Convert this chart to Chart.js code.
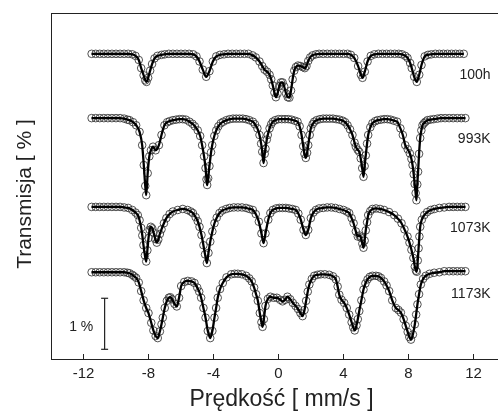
<!DOCTYPE html>
<html>
<head>
<meta charset="utf-8">
<script src="https://cdn.jsdelivr.net/npm/chart.js@4"></script>
<style>html,body{margin:0;padding:0;overflow:hidden;background:#fff}canvas{display:block}</style>
</head>
<body>
<canvas id="myChart" width="512" height="413"></canvas>
<script>
// Mossbauer spectra: [velocity mm/s, absorption depth %]
const s100h = [[-11.5,0],[-11.25,0],[-11,0],[-10.75,0],[-10.5,0],[-10.25,0],[-10,0],[-9.75,0],[-9.5,0],[-9.25,0],[-9,0.01],[-8.8,0.04],[-8.6,0.12],[-8.45,0.28],[-8.3,0.42],[-8.2,0.52],[-8.12,0.55],[-8.02,0.47],[-7.9,0.33],[-7.78,0.2],[-7.63,0.09],[-7.45,0.04],[-7.2,0.02],[-7,0.01],[-6.75,0],[-6.5,0],[-6.25,0],[-6,0],[-5.75,0],[-5.5,0],[-5.25,0.01],[-5.05,0.05],[-4.86,0.15],[-4.66,0.31],[-4.45,0.45],[-4.25,0.34],[-4.04,0.15],[-3.83,0.05],[-3.6,0.02],[-3.35,0.01],[-3.1,0],[-2.85,0],[-2.6,0],[-2.35,0],[-2.1,0],[-1.85,0],[-1.6,0.03],[-1.4,0.07],[-1.17,0.15],[-1,0.24],[-0.86,0.31],[-0.7,0.35],[-0.55,0.41],[-0.45,0.5],[-0.35,0.62],[-0.25,0.76],[-0.16,0.85],[-0.06,0.78],[0.05,0.63],[0.15,0.56],[0.25,0.56],[0.35,0.64],[0.47,0.78],[0.57,0.85],[0.67,0.86],[0.77,0.72],[0.87,0.5],[0.97,0.33],[1.07,0.26],[1.2,0.23],[1.35,0.24],[1.5,0.26],[1.62,0.28],[1.72,0.24],[1.83,0.14],[1.95,0.07],[2.1,0.03],[2.3,0.01],[2.5,0],[2.75,0],[3,0],[3.25,0],[3.5,0],[3.75,0],[4,0],[4.25,0],[4.45,0.02],[4.66,0.08],[4.9,0.24],[5.07,0.41],[5.17,0.47],[5.31,0.35],[5.48,0.15],[5.68,0.04],[5.9,0.01],[6.15,0],[6.4,0],[6.65,0],[6.9,0],[7.15,0],[7.4,0],[7.6,0.01],[7.8,0.04],[7.94,0.08],[8.1,0.18],[8.2,0.28],[8.35,0.45],[8.51,0.55],[8.66,0.41],[8.8,0.22],[9,0.05],[9.2,0.02],[9.4,0.01],[9.65,0],[9.9,0],[10.15,0],[10.4,0],[10.65,0],[10.9,0],[11.15,0],[11.4,0]];

const s993K = [[-11.5,0],[-11.25,0],[-11,0],[-10.75,0],[-10.5,0],[-10.25,0],[-10,0],[-9.75,0],[-9.5,0.01],[-9.3,0.03],[-9.17,0.04],[-8.95,0.08],[-8.76,0.14],[-8.55,0.27],[-8.39,0.53],[-8.29,0.92],[-8.2,1.33],[-8.14,1.51],[-8.05,1.08],[-7.95,0.75],[-7.85,0.63],[-7.72,0.56],[-7.56,0.63],[-7.36,0.53],[-7.2,0.33],[-7.02,0.14],[-6.85,0.08],[-6.7,0.06],[-6.5,0.04],[-6.3,0.03],[-6.1,0.02],[-5.9,0.02],[-5.7,0.03],[-5.48,0.07],[-5.3,0.11],[-5.15,0.16],[-4.97,0.24],[-4.82,0.35],[-4.7,0.53],[-4.58,0.75],[-4.49,0.98],[-4.43,1.2],[-4.39,1.31],[-4.33,1.18],[-4.25,0.94],[-4.15,0.67],[-4.08,0.53],[-3.95,0.35],[-3.83,0.24],[-3.7,0.16],[-3.55,0.1],[-3.4,0.07],[-3.2,0.04],[-3,0.02],[-2.8,0.01],[-2.6,0.01],[-2.4,0.01],[-2.2,0.01],[-2,0.02],[-1.8,0.04],[-1.58,0.07],[-1.45,0.12],[-1.3,0.2],[-1.17,0.33],[-1.07,0.5],[-1,0.66],[-0.92,0.88],[-0.85,0.7],[-0.8,0.6],[-0.72,0.42],[-0.66,0.33],[-0.55,0.2],[-0.45,0.12],[-0.35,0.07],[-0.2,0.04],[0,0.02],[0.2,0.02],[0.4,0.02],[0.6,0.02],[0.8,0.03],[1,0.05],[1.17,0.07],[1.3,0.16],[1.42,0.33],[1.52,0.55],[1.6,0.7],[1.68,0.78],[1.76,0.68],[1.83,0.53],[1.92,0.33],[1.99,0.2],[2.1,0.12],[2.2,0.07],[2.35,0.04],[2.55,0.02],[2.75,0.01],[2.95,0.01],[3.15,0.01],[3.35,0.01],[3.55,0.02],[3.75,0.03],[3.95,0.05],[4.1,0.08],[4.25,0.14],[4.4,0.22],[4.55,0.33],[4.68,0.48],[4.76,0.56],[4.87,0.62],[4.97,0.66],[5.06,0.79],[5.15,0.98],[5.23,1.15],[5.3,0.94],[5.37,0.73],[5.45,0.5],[5.52,0.33],[5.65,0.18],[5.78,0.1],[5.95,0.06],[6.1,0.04],[6.3,0.03],[6.5,0.02],[6.7,0.02],[6.9,0.03],[7.1,0.05],[7.3,0.07],[7.5,0.2],[7.65,0.33],[7.8,0.53],[7.95,0.61],[8.08,0.69],[8.18,0.8],[8.25,0.92],[8.32,1.1],[8.38,1.29],[8.44,1.47],[8.49,1.61],[8.54,1.3],[8.59,1.05],[8.65,0.7],[8.72,0.39],[8.79,0.24],[8.86,0.14],[8.95,0.1],[9.05,0.07],[9.17,0.04],[9.35,0.03],[9.55,0.02],[9.78,0.01],[10,0],[10.25,0],[10.5,0],[10.75,0],[11,0],[11.25,0],[11.5,0]];

const s1073K = [[-11.5,0],[-11.25,0],[-11,0],[-10.75,0],[-10.5,0],[-10.25,0],[-10,0],[-9.75,0],[-9.5,0.01],[-9.25,0.02],[-9,0.06],[-8.8,0.11],[-8.66,0.16],[-8.55,0.26],[-8.45,0.41],[-8.38,0.56],[-8.31,0.75],[-8.22,0.95],[-8.14,1.07],[-8.07,0.85],[-8,0.61],[-7.93,0.45],[-7.86,0.39],[-7.77,0.42],[-7.69,0.5],[-7.58,0.63],[-7.49,0.7],[-7.4,0.64],[-7.3,0.53],[-7.2,0.44],[-7.05,0.32],[-6.9,0.22],[-6.7,0.14],[-6.5,0.09],[-6.2,0.06],[-5.89,0.04],[-5.6,0.06],[-5.4,0.09],[-5.27,0.12],[-5.1,0.2],[-4.97,0.28],[-4.86,0.39],[-4.74,0.55],[-4.62,0.75],[-4.52,0.93],[-4.41,1.1],[-4.31,0.9],[-4.2,0.68],[-4.07,0.48],[-3.94,0.32],[-3.8,0.21],[-3.63,0.12],[-3.45,0.07],[-3.22,0.04],[-3,0.02],[-2.75,0.01],[-2.5,0.01],[-2.25,0.01],[-2,0.02],[-1.8,0.04],[-1.58,0.06],[-1.4,0.14],[-1.21,0.29],[-1.05,0.52],[-0.92,0.71],[-0.8,0.52],[-0.63,0.25],[-0.5,0.12],[-0.35,0.06],[-0.15,0.03],[0.05,0.02],[0.25,0.02],[0.45,0.02],[0.65,0.03],[0.85,0.04],[1.06,0.06],[1.22,0.13],[1.37,0.25],[1.54,0.45],[1.68,0.55],[1.83,0.45],[1.99,0.22],[2.15,0.11],[2.3,0.06],[2.5,0.03],[2.75,0.02],[3,0.01],[3.25,0.01],[3.5,0.02],[3.75,0.04],[4,0.06],[4.2,0.09],[4.35,0.12],[4.5,0.22],[4.62,0.32],[4.76,0.48],[4.88,0.58],[4.98,0.56],[5.07,0.6],[5.16,0.72],[5.23,0.8],[5.3,0.66],[5.37,0.46],[5.45,0.3],[5.52,0.16],[5.65,0.08],[5.78,0.04],[6,0.03],[6.25,0.04],[6.5,0.06],[6.8,0.1],[7.12,0.16],[7.35,0.23],[7.57,0.32],[7.75,0.44],[7.94,0.58],[8.06,0.7],[8.18,0.84],[8.3,1],[8.39,1.17],[8.46,1.25],[8.51,1.27],[8.57,1.05],[8.62,0.81],[8.67,0.58],[8.72,0.39],[8.82,0.25],[8.97,0.16],[9.15,0.1],[9.37,0.06],[9.6,0.04],[9.9,0.02],[10.2,0.01],[10.5,0],[10.75,0],[11,0],[11.25,0],[11.5,0]];

const s1173K = [[-11.5,0],[-11.25,0],[-11,0],[-10.75,0],[-10.5,0],[-10.25,0],[-10,0],[-9.75,0],[-9.5,0],[-9.3,0.01],[-9.17,0.02],[-9,0.05],[-8.88,0.08],[-8.76,0.11],[-8.6,0.2],[-8.45,0.37],[-8.3,0.55],[-8.14,0.7],[-8,0.8],[-7.83,0.99],[-7.7,1.14],[-7.56,1.25],[-7.43,1.29],[-7.3,1.16],[-7.2,1.02],[-7.12,0.89],[-7,0.7],[-6.87,0.56],[-6.75,0.5],[-6.66,0.49],[-6.55,0.53],[-6.4,0.62],[-6.26,0.67],[-6.12,0.5],[-5.99,0.27],[-5.8,0.19],[-5.58,0.17],[-5.35,0.18],[-5.17,0.21],[-5,0.3],[-4.88,0.38],[-4.76,0.5],[-4.62,0.7],[-4.49,0.89],[-4.35,1.15],[-4.2,1.29],[-4.07,1.15],[-3.94,0.89],[-3.84,0.7],[-3.74,0.5],[-3.6,0.33],[-3.43,0.21],[-3.2,0.1],[-2.91,0.04],[-2.7,0.03],[-2.5,0.03],[-2.25,0.04],[-1.99,0.07],[-1.8,0.12],[-1.65,0.18],[-1.5,0.3],[-1.38,0.43],[-1.27,0.56],[-1.15,0.8],[-1.05,0.98],[-0.98,1.07],[-0.9,0.92],[-0.8,0.66],[-0.65,0.52],[-0.5,0.48],[-0.3,0.5],[-0.1,0.5],[0.1,0.54],[0.25,0.57],[0.4,0.54],[0.55,0.48],[0.72,0.53],[0.88,0.6],[1.05,0.66],[1.2,0.72],[1.35,0.8],[1.48,0.86],[1.6,0.74],[1.7,0.56],[1.8,0.38],[1.9,0.24],[2.05,0.13],[2.2,0.07],[2.4,0.05],[2.6,0.04],[2.85,0.04],[3.12,0.05],[3.35,0.08],[3.53,0.14],[3.64,0.28],[3.74,0.44],[3.88,0.54],[4.04,0.6],[4.2,0.7],[4.35,0.83],[4.5,0.98],[4.6,1.08],[4.69,1.14],[4.8,1.04],[4.88,0.92],[4.97,0.76],[5.1,0.55],[5.23,0.34],[5.35,0.22],[5.48,0.14],[5.62,0.09],[5.78,0.07],[6,0.07],[6.15,0.08],[6.3,0.11],[6.5,0.18],[6.65,0.26],[6.81,0.37],[7,0.55],[7.22,0.7],[7.38,0.74],[7.53,0.79],[7.7,0.92],[7.83,1.05],[7.95,1.17],[8.05,1.27],[8.15,1.32],[8.27,1.22],[8.39,1.02],[8.47,0.83],[8.55,0.63],[8.65,0.43],[8.76,0.24],[8.9,0.13],[9.06,0.07],[9.3,0.03],[9.58,0.01],[9.9,0],[10.2,-0.02],[10.5,-0.02],[10.75,-0.02],[11,-0.02],[11.25,-0.02],[11.5,-0.02]];

const samples = ['100h', '993K', '1073K', '1173K'];
const baselines = [-0.80, -2.06, -3.80, -5.08];   // vertical shift of each spectrum, %
const xTicks = [-12, -8, -4, 0, 4, 8, 12];
const xMin = -14;
const pxPerUnit = 16.25;            // horizontal scale of the original figure
const barX = -10.7;                 // 1 % scale bar
const barY = [-5.59, -6.59];

const font = '"Liberation Sans", Arial, sans-serif';
const ink = '#222';

var spectra = [s100h, s993K, s1073K, s1173K];
var datasets = [];
spectra.forEach(function(s, i){
  var pts = s.map(function(p){ return {x: p[0], y: baselines[i] - p[1]}; });
  datasets.push({
    data: pts, showLine: false, order: 2,
    pointRadius: 3.8, pointBorderWidth: 1,
    pointBorderColor: 'rgba(50,50,50,0.85)', pointBackgroundColor: 'rgba(255,255,255,0)'
  });
  datasets.push({
    data: pts, order: 1, borderColor: '#000', borderWidth: 2.3,
    pointRadius: 0, cubicInterpolationMode: 'monotone'
  });
});
datasets.push({
  data: barY.map(function(v){ return {x: barX, y: v}; }), order: 0,
  borderColor: ink, borderWidth: 1.2, pointStyle: 'line', pointRadius: 3.5,
  pointBorderColor: ink, pointBorderWidth: 1.2
});

// keep the x scale at a fixed px per mm/s; the plot runs off the right edge of the page
var scalePlugin = {
  id: 'fixScale',
  afterLayout: function(chart){
    var s = chart.scales.x;
    s.max = xMin + (s.right - s.left) / pxPerUnit;
    s.configure();
  }
};

var textPlugin = {
  id: 'texts',
  afterDraw: function(chart){
    var ctx = chart.ctx, x = chart.scales.x, y = chart.scales.y, a = chart.chartArea;
    ctx.save();
    // top frame line
    ctx.strokeStyle = ink;
    ctx.lineWidth = 1;
    ctx.beginPath();
    ctx.moveTo(a.left, a.top + 0.5);
    ctx.lineTo(chart.width, a.top + 0.5);
    ctx.stroke();

    ctx.fillStyle = ink;
    ctx.font = '14px ' + font;
    ctx.textAlign = 'right';
    ctx.textBaseline = 'middle';
    samples.forEach(function(t, i){
      ctx.fillText(t, x.getPixelForValue(13.05), y.getPixelForValue(baselines[i] - 0.42));
    });
    ctx.fillText('1 %', x.getPixelForValue(-11.4), y.getPixelForValue((barY[0] + barY[1]) / 2) + 3);

    // y title
    ctx.font = '21px ' + font;
    ctx.textAlign = 'center';
    ctx.translate(25, (a.top + a.bottom) / 2 + 8);
    ctx.rotate(-Math.PI / 2);
    ctx.fillText('Transmisja [ % ]', 0, 0);
    ctx.restore();
  }
};

var ctx = document.getElementById('myChart').getContext('2d');
var myChart = new Chart(ctx, {
  type: 'line',
  data: { datasets: datasets },
  plugins: [scalePlugin, textPlugin],
  options: {
    responsive: false, animation: false, devicePixelRatio: 1,
    layout: { autoPadding: false, padding: { top: 13, left: 51, right: 0, bottom: 0 } },
    plugins: { legend: { display: false }, tooltip: { enabled: false } },
    scales: {
      x: {
        type: 'linear', min: xMin, max: 14.37,
        afterBuildTicks: function(s){ s.ticks = xTicks.map(function(v){ return {value: v}; }); },
        afterFit: function(s){ s.height = 54; s.paddingLeft = 0; s.paddingRight = 0; },
        grid: { drawOnChartArea: false, tickLength: -5, color: ink },
        border: { color: ink },
        ticks: { padding: 11, color: ink, font: { family: font, size: 15 } },
        title: { display: true, text: 'Prędkość [ mm/s ]', color: ink, padding: 0, font: { family: font, size: 23 } }
      },
      y: {
        min: -6.78, max: 0,
        afterFit: function(s){ s.width = 0; },
        ticks: { display: false },
        grid: { display: false, drawTicks: false },
        border: { color: ink }
      }
    }
  }
});
</script>
</body>
</html>
